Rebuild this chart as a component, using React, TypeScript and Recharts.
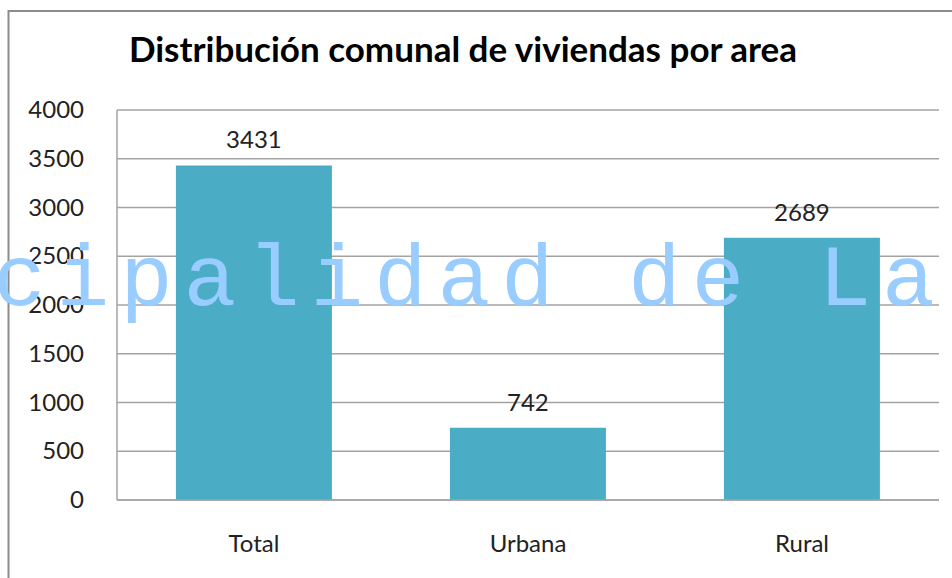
import { Bar, BarChart, CartesianGrid, LabelList, XAxis, YAxis } from "recharts";

const categories = ["Total", "Urbana", "Rural"];
const viviendas = [3431, 742, 2689];
const yTicks = [0, 500, 1000, 1500, 2000, 2500, 3000, 3500, 4000];

const title = "Distribución comunal de viviendas por area";
const watermark = "cipalidad de La";

const data = categories.map((area, i) => ({ area, viviendas: viviendas[i] }));

const FONT = "Lato, 'Open Sans', sans-serif";

function YTick({ x, y, payload }: any) {
  return (
    <text x={x - 25} y={y + 8} textAnchor="end" fontFamily={FONT} fontSize={24} fill="#222">
      {payload.value}
    </text>
  );
}

function XTick({ x, y, payload }: any) {
  return (
    <text x={x} y={y + 44} textAnchor="middle" fontFamily={FONT} fontSize={24} fill="#222">
      {payload.value}
    </text>
  );
}

function BarValue({ x, y, width, value }: any) {
  return (
    <text x={x + width / 2} y={y - 17} textAnchor="middle" fontFamily={FONT} fontSize={24} fill="#222">
      {value}
    </text>
  );
}

export default function App() {
  return (
    <div
      style={{
        position: "absolute",
        left: 0,
        top: 0,
        width: 952,
        height: 578,
        overflow: "hidden",
        background: "#fff",
      }}
    >
      <BarChart
        width={952}
        height={578}
        data={data}
        margin={{ top: 110, right: 13, left: 57, bottom: 38 }}
        barCategoryGap="21.5%"
      >
        <CartesianGrid vertical={false} stroke="#a3a3a3" strokeWidth={1.5} />
        <XAxis
          dataKey="area"
          height={40}
          axisLine={{ stroke: "#a3a3a3", strokeWidth: 1.5 }}
          tickLine={false}
          tick={<XTick />}
        />
        <YAxis
          width={60}
          domain={[0, 4000]}
          ticks={yTicks}
          axisLine={{ stroke: "#a3a3a3", strokeWidth: 1.5 }}
          tickLine={false}
          tick={<YTick />}
        />
        <Bar dataKey="viviendas" fill="#4BACC6" isAnimationActive={false}>
          <LabelList dataKey="viviendas" content={<BarValue />} />
        </Bar>
      </BarChart>
      <svg
        width={952}
        height={578}
        style={{ position: "absolute", left: 0, top: 0, pointerEvents: "none" }}
      >
        <line x1={8.5} y1={10} x2={8.5} y2={578} stroke="#8c8c8c" strokeWidth={2} />
        <line x1={8} y1={11} x2={952} y2={11} stroke="#8c8c8c" strokeWidth={2} />
        <text x={463} y={62} textAnchor="middle" fontFamily={FONT} fontWeight="bold" fontSize={35} fill="#000">
          {title}
        </text>
        {/* watermark: narrower glyphs spread to the reference's character pitch */}
        <text
          x={-7}
          y={305}
          fontFamily="'Liberation Mono', 'DejaVu Sans Mono', monospace"
          fontSize={88}
          letterSpacing={10.7}
          fill="#99ccff"
        >
          {watermark}
        </text>
      </svg>
    </div>
  );
}
